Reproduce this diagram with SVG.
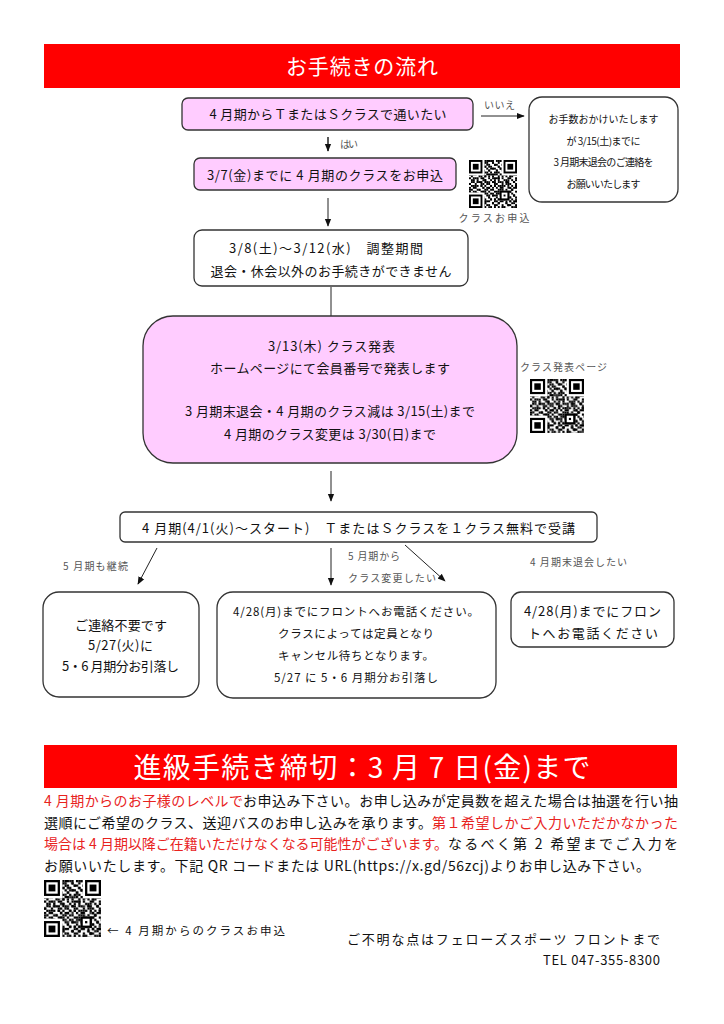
<svg xmlns="http://www.w3.org/2000/svg" width="724" height="1024" viewBox="0 0 724 1024">
<style>
text{font-family:"Noto Sans CJK JP","Noto Sans",sans-serif;fill:#111}
.t{font-size:13px;text-anchor:middle}
.s{font-size:10px;text-anchor:middle}
.m{font-size:11.5px;text-anchor:middle}
.lab{font-size:10px;fill:#555}
.box{stroke:#333;stroke-width:1.3}
.pink{fill:#FFCCFF}
.white{fill:#fff}
.ban{fill:#FF0000}
.bt{fill:#fff;text-anchor:middle}
.p{font-size:14px}
.conn line{stroke:#222;stroke-width:1}
</style>
<defs>
<marker id="ah" viewBox="0 0 10 10" refX="9" refY="5" markerWidth="8" markerHeight="8" orient="auto" markerUnits="userSpaceOnUse"><path d="M0,1 L10,5 L0,9 z" fill="#111"/></marker>
<pattern id="qa" patternUnits="userSpaceOnUse" width="7" height="7"><path fill="#000" d="M0 0h1v1h-1zM2 0h2v1h-2zM1 1h1v1h-1zM5 1h1v1h-1zM0 2h1v1h-1zM3 2h1v1h-1zM6 2h1v1h-1zM1 3h1v1h-1zM4 3h1v1h-1zM2 4h1v1h-1zM5 4h2v1h-2zM0 5h1v1h-1zM3 5h1v1h-1zM1 6h1v1h-1zM4 6h1v1h-1zM6 6h1v1h-1z"/></pattern>
<pattern id="qb" patternUnits="userSpaceOnUse" width="11" height="11"><path fill="#000" d="M1 0h1v1h-1zM4 0h1v1h-1zM8 0h1v1h-1zM9 1h1v1h-1zM2 2h1v1h-1zM6 2h1v1h-1zM10 3h1v1h-1zM0 4h1v1h-1zM5 4h1v1h-1zM7 5h1v1h-1zM3 6h1v1h-1zM9 6h1v1h-1zM1 7h1v1h-1zM6 8h1v1h-1zM10 8h1v1h-1zM4 9h1v1h-1zM8 10h1v1h-1zM2 10h1v1h-1z"/></pattern>
<pattern id="qc" patternUnits="userSpaceOnUse" width="13" height="13"><path fill="#000" d="M3 0h1v1h-1zM11 0h1v1h-1zM7 1h1v1h-1zM12 1h1v1h-1zM4 2h1v1h-1zM9 2h1v1h-1zM2 3h1v1h-1zM8 3h1v1h-1zM12 4h1v1h-1zM3 4h1v1h-1zM10 5h1v1h-1zM1 5h1v1h-1zM6 6h1v1h-1zM11 7h1v1h-1zM0 7h1v1h-1zM5 7h1v1h-1zM8 8h1v1h-1zM2 9h1v1h-1zM12 9h1v1h-1zM7 10h1v1h-1zM4 11h1v1h-1zM10 11h1v1h-1zM0 12h1v1h-1zM6 12h1v1h-1z"/></pattern>
<symbol id="qr" viewBox="0 0 25 25">
<rect width="25" height="25" fill="#fff"/>
<rect width="25" height="25" fill="url(#qa)"/>
<rect width="25" height="25" fill="url(#qb)"/>
<rect width="25" height="25" fill="url(#qc)"/>
<rect x="0" y="0" width="8" height="8" fill="#fff"/><rect x="0" y="0" width="7" height="7" fill="#000"/><rect x="1" y="1" width="5" height="5" fill="#fff"/><rect x="2" y="2" width="3" height="3" fill="#000"/>
<rect x="17" y="0" width="8" height="8" fill="#fff"/><rect x="18" y="0" width="7" height="7" fill="#000"/><rect x="19" y="1" width="5" height="5" fill="#fff"/><rect x="20" y="2" width="3" height="3" fill="#000"/>
<rect x="0" y="17" width="8" height="8" fill="#fff"/><rect x="0" y="18" width="7" height="7" fill="#000"/><rect x="1" y="19" width="5" height="5" fill="#fff"/><rect x="2" y="20" width="3" height="3" fill="#000"/>
<rect x="16" y="16" width="5" height="5" fill="#000"/><rect x="17" y="17" width="3" height="3" fill="#fff"/><rect x="18" y="18" width="1" height="1" fill="#000"/>
</symbol>
</defs>
<rect width="724" height="1024" fill="#fff"/>

<g id="header">
<rect class="ban" x="44" y="44" width="636" height="44"/>
<text class="bt" x="362" y="73.5" font-size="21" textLength="152">お手続きの流れ</text>
</g>

<g id="connectors" class="conn">
<line x1="481" y1="116" x2="524" y2="116" marker-end="url(#ah)"/>
<line x1="328" y1="137" x2="328" y2="151" marker-end="url(#ah)" style="stroke-width:1.5"/>
<line x1="328" y1="198" x2="328" y2="226" marker-end="url(#ah)"/>
<line x1="331" y1="287" x2="331" y2="316"/>
<line x1="331" y1="471" x2="331" y2="501" marker-end="url(#ah)"/>
<line x1="157" y1="548" x2="138" y2="584" marker-end="url(#ah)"/>
<line x1="331" y1="548" x2="331" y2="585" marker-end="url(#ah)"/>
<line x1="405" y1="545" x2="445" y2="581" marker-end="url(#ah)"/>
<text class="lab" x="484" y="109" textLength="31">いいえ</text>
<text class="lab" x="340" y="148" font-size="11" textLength="18">はい</text>
<text class="lab" x="63" y="569.5" textLength="65">5 月期も継続</text>
<text class="lab" x="348" y="560" textLength="52">5 月期から</text>
<text class="lab" x="348" y="582" textLength="88">クラス変更したい</text>
<text class="lab" x="530" y="566" textLength="97">4 月期末退会したい</text>
</g>

<g id="n1">
<rect class="box pink" x="182" y="98" width="291" height="32" rx="6"/>
<text class="t" x="328" y="118.5" textLength="237">4 月期からＴまたはＳクラスで通いたい</text>
</g>

<g id="n-no">
<rect class="box white" x="529" y="97" width="149" height="105" rx="13"/>
<text class="s" x="603.5" y="122.5" textLength="110">お手数おかけいたします</text>
<text class="s" x="603.5" y="144.5" textLength="74">が 3/15(土)までに</text>
<text class="s" x="603.5" y="165.5" textLength="100">3 月期末退会のご連絡を</text>
<text class="s" x="603.5" y="187.5" textLength="74">お願いいたします</text>
</g>

<g id="n2">
<rect class="box pink" x="194" y="158" width="262" height="32" rx="6"/>
<text class="t" x="325" y="179.5" textLength="236">3/7(金)までに 4 月期のクラスをお申込</text>
</g>

<g id="qr1">
<use href="#qr" x="468" y="160" width="50" height="48"/>
<text class="lab" x="494" y="222" font-size="11" text-anchor="middle" textLength="71">クラスお申込</text>
</g>

<g id="n3">
<rect class="box white" x="194" y="230" width="274" height="56" rx="8"/>
<text class="t" x="326" y="252.5" textLength="194">3/8(土)～3/12(水)　調整期間</text>
<text class="t" x="331" y="275.5" textLength="241">退会・休会以外のお手続きができません</text>
</g>

<g id="n4">
<rect class="box pink" x="143" y="316" width="374" height="147" rx="30"/>
<text class="t" x="331.5" y="350.5" textLength="127">3/13(木) クラス発表</text>
<text class="t" x="330" y="372.5" textLength="240">ホームページにて会員番号で発表します</text>
<text class="t" x="330" y="415.5" textLength="290">3 月期末退会・4 月期のクラス減は 3/15(土)まで</text>
<text class="t" x="330" y="438.5" textLength="212">4 月期のクラス変更は 3/30(日)まで</text>
</g>

<g id="qr2">
<text class="lab" x="563.5" y="370.5" text-anchor="middle" textLength="87">クラス発表ページ</text>
<use href="#qr" x="530" y="378" width="54" height="56"/>
</g>

<g id="n5">
<rect class="box white" x="120" y="512" width="477" height="30" rx="5"/>
<text class="t" x="358.5" y="532.5" textLength="433">4 月期(4/1(火)～スタート)　ＴまたはＳクラスを１クラス無料で受講</text>
</g>

<g id="n6">
<rect class="box white" x="43" y="592" width="156" height="105" rx="16"/>
<text class="t" x="121" y="629.5" textLength="92">ご連絡不要です</text>
<text class="t" x="120.5" y="649.5" textLength="65">5/27(火)に</text>
<text class="t" x="120.5" y="670.5" textLength="117">5・6 月期分お引落し</text>
</g>

<g id="n7">
<rect class="box white" x="217" y="592" width="279" height="106" rx="16"/>
<text class="m" x="356" y="616" textLength="246">4/28(月)までにフロントへお電話ください。</text>
<text class="m" x="356" y="638" textLength="156">クラスによっては定員となり</text>
<text class="m" x="356" y="660" textLength="156">キャンセル待ちとなります。</text>
<text class="m" x="356" y="682" textLength="164">5/27 に 5・6 月期分お引落し</text>
</g>

<g id="n8">
<rect class="box white" x="511" y="592" width="163" height="55" rx="10"/>
<text class="t" x="592.5" y="615.5" textLength="137">4/28(月)までにフロン</text>
<text class="t" x="593" y="637.5" textLength="130">トへお電話ください</text>
</g>

<g id="deadline">
<rect class="ban" x="44" y="745" width="633" height="43"/>
<text class="bt" x="362" y="778" font-size="28" textLength="457">進級手続き締切：3 月 7 日(金)まで</text>
</g>

<g id="para" class="p">
<text x="44" y="806" textLength="199" style="fill:#E8231E">4 月期からのお子様のレベルで</text>
<text x="243" y="806" textLength="435">お申込み下さい。お申し込みが定員数を超えた場合は抽選を行い抽</text>
<text x="44" y="827.5" textLength="388">選順にご希望のクラス、送迎バスのお申し込みを承ります。</text>
<text x="432" y="827.5" textLength="246" style="fill:#E8231E">第１希望しかご入力いただかなかった</text>
<text x="44" y="849" textLength="404" style="fill:#E8231E">場合は 4 月期以降ご在籍いただけなくなる可能性がございます。</text>
<text x="448" y="849" textLength="230">なるべく第 2 希望までご入力を</text>
<text x="44" y="870.5" textLength="606">お願いいたします。下記 QR コードまたは URL(https://x.gd/56zcj)よりお申し込み下さい。</text>
</g>

<g id="qr3">
<use href="#qr" x="44" y="880" width="57" height="57"/>
<text x="107" y="935" font-size="11.5" textLength="178">← 4 月期からのクラスお申込</text>
</g>

<g id="contact">
<text x="347" y="943.5" font-size="13" textLength="313">ご不明な点はフェローズスポーツ フロントまで</text>
<text x="660" y="964.5" font-size="13" text-anchor="end" textLength="117">TEL 047-355-8300</text>
</g>
</svg>
